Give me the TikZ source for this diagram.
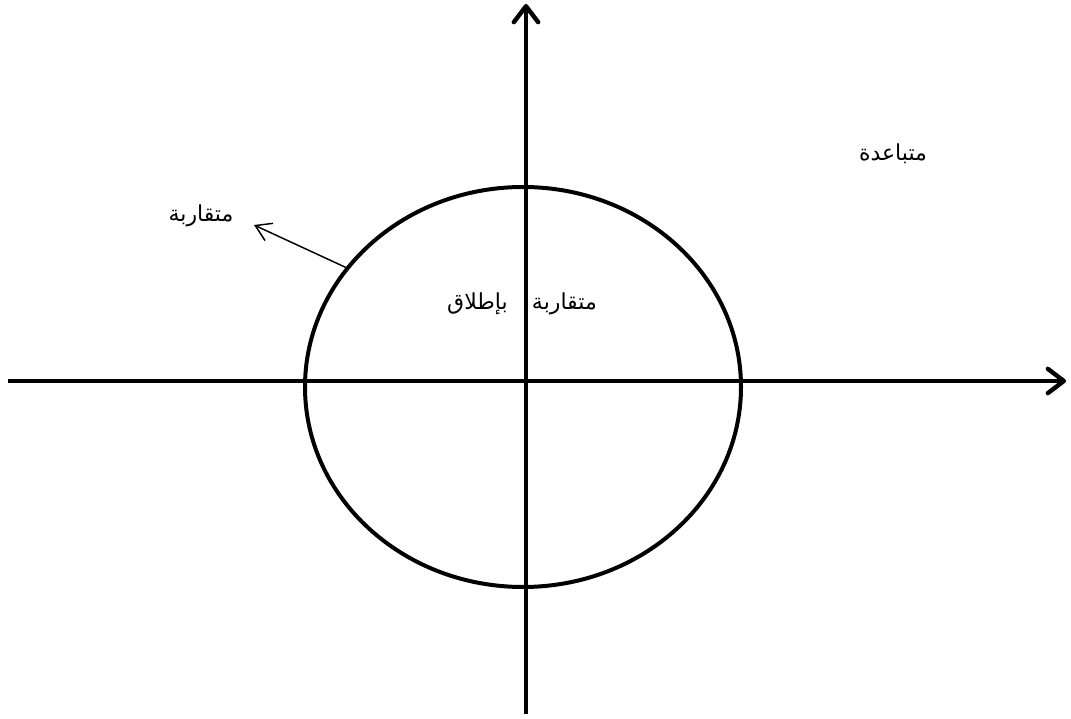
\documentclass[tikz,border=0pt]{standalone}
\usepackage{fontspec}
\usepackage{xcolor}
\usetikzlibrary{positioning,arrows.meta,calc,shapes.geometric}
\TeXXeTstate=1
\newfontfamily\arabicfont[Script=Arabic]{DejaVu Sans}
\definecolor{ink}{HTML}{000000}
\tikzset{
  axis/.style  = {draw=ink, line width=3.3pt, -{Straight Barb[length=4.2mm,width=6.4mm,round]}},
  disc/.style  = {ellipse, draw=ink, line width=3pt, minimum width=436\px, minimum height=400\px, inner sep=0pt},
  word/.style  = {font=\arabicfont\fontsize{16.5}{19}\selectfont, text=ink, inner sep=1pt},
  pointer/.style = {draw=ink, line width=1.1pt, -{Straight Barb[length=4mm,width=5mm]}},
}
\newlength{\px}\setlength{\px}{0.75pt}

\begin{document}
\begin{tikzpicture}[x=0.75pt,y=0.75pt]
\useasboundingbox (0,0) rectangle (1071,718);

% ------------------------------------------------------------------ the disc
\node[disc] (conv) at (523,331) {};

% ------------------------------------------------------------------ axes
\coordinate (xl) at (8,337);
\coordinate (xr) at (1066,337);
\coordinate (yb) at (526,4);
\coordinate (yt) at (526,714);
\draw[axis] (xl) -- (xr);
\draw[axis] (yb) -- (yt);

% ------------------------------------------------------------------ labels
\node[word] (absconv) at (522,414) {\beginR متقاربة\hspace{1.1em}بإطلاق\endR};
\node[word] (diverge) at (893,564) {\beginR متباعدة\endR};
\node[word] (bdconv)  at (201,502) {\beginR متقاربة\endR};

\coordinate (tip) at (254,493);
\draw[pointer] (conv.146) -- (tip);

\end{tikzpicture}
\end{document}
